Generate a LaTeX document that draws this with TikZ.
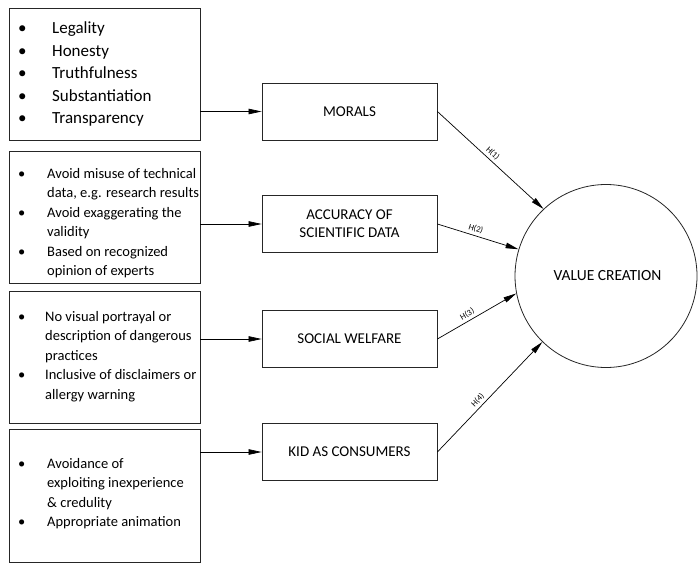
\documentclass[tikz,border=0pt]{standalone}
\usepackage{fontspec}
\setmainfont{Carlito}
\usetikzlibrary{arrows.meta,shapes.geometric}
\tikzset{
  lbox/.style={draw=black!85, line width=0.8pt, minimum width=191pt, inner sep=0pt},
  mbox/.style={draw=black!85, line width=0.8pt, minimum width=175pt, minimum height=57pt, inner sep=0pt, align=center, font=\fontsize{15}{18}\selectfont},
  bl/.style={anchor=base west, inner sep=0pt, align=left},
  arr/.style={line width=0.7pt, -{Triangle[length=13pt,width=5.5pt]}},
  hl/.style={font=\fontsize{8.5}{9}\selectfont, sloped, above, inner sep=2.5pt}
}
\begin{document}
\begin{tikzpicture}[x=1pt,y=-1pt]
\useasboundingbox (0,0) rectangle (700,567);
% left boxes
\node[lbox, minimum height=132pt] (b1) at (104.5,74) {};
\node[lbox, minimum height=132pt] (b2) at (104.5,217) {};
\node[lbox, minimum height=132pt] (b3) at (104.5,357) {};
\node[lbox, minimum height=133pt] (b4) at (104.5,495.5) {};
% left texts
\node[bl, font=\fontsize{17}{22.5}\selectfont] (t1) at (18,34)
 {\begin{tabular}[t]{@{}p{34pt}@{}l@{}}
 \textbullet & Legality\\
 \textbullet & Honesty\\
 \textbullet & Truthfulness\\
 \textbullet & Substantiation\\
 \textbullet & Transparency
 \end{tabular}};
\node[bl, font=\fontsize{14.5}{19.5}\selectfont] (t2) at (18,178)
 {\begin{tabular}[t]{@{}p{29pt}@{}l@{}}
 \textbullet & Avoid misuse of technical\\
  & data, e.g. research results\\
 \textbullet & Avoid exaggerating the\\
  & validity\\
 \textbullet & Based on recognized\\
  & opinion of experts
 \end{tabular}};
\node[bl, font=\fontsize{14.5}{19.5}\selectfont] (t3) at (18,321)
 {\begin{tabular}[t]{@{}p{27pt}@{}l@{}}
 \textbullet & No visual portrayal or\\
  & description of dangerous\\
  & practices\\
 \textbullet & Inclusive of disclaimers or\\
  & allergy warning
 \end{tabular}};
\node[bl, font=\fontsize{14.5}{19.5}\selectfont] (t4) at (18,468)
 {\begin{tabular}[t]{@{}p{29pt}@{}l@{}}
 \textbullet & Avoidance of\\
  & exploiting inexperience\\
  & \& credulity\\
 \textbullet & Appropriate animation
 \end{tabular}};
% middle boxes
\node[mbox] (m1) at (349.5,111.5) {MORALS};
\node[mbox] (m2) at (349.5,224) {ACCURACY OF\\SCIENTIFIC DATA};
\node[mbox] (m3) at (349.5,339) {SOCIAL WELFARE};
\node[mbox] (m4) at (349.5,452) {KID AS CONSUMERS};
% ellipse
\node[ellipse, draw=black!85, line width=0.8pt, minimum width=182pt, minimum height=183pt, inner sep=0pt, font=\fontsize{15.5}{18}\selectfont] (v) at (606,276) {\hspace*{3pt}VALUE CREATION};
% arrows left -> middle
\draw[arr] (b1.east |- m1) -- (m1.west);
\draw[arr] (b2.east |- m2) -- (m2.west);
\draw[arr] (b3.east |- m3) -- (m3.west);
\draw[arr] (b4.east |- m4) -- (m4.west);
% arrows middle -> value
\draw[arr] (m1.east) -- node[hl, pos=0.48] {H(1)} (v.133);
\draw[arr] (m2.east) -- node[hl, pos=0.45] {H(2)} (v.163);
\draw[arr] (m3.east) -- node[hl, pos=0.42] {H(3)} (v.191);
\draw[arr] (m4.east) -- node[hl, pos=0.43] {H(4)} (v.226);
\end{tikzpicture}
\end{document}
